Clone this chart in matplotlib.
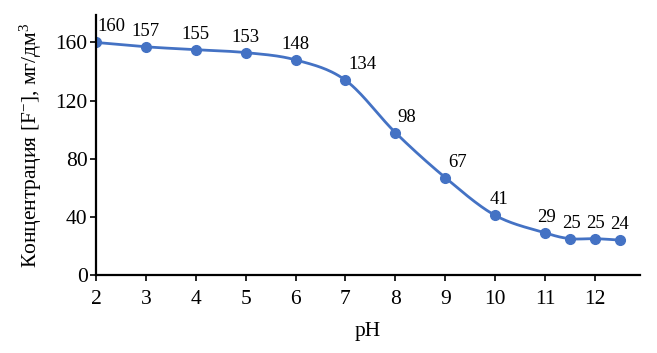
import numpy as np
import matplotlib
matplotlib.use("Agg")
import matplotlib.pyplot as plt

ph = [2, 3, 4, 5, 6, 7, 8, 9, 10, 11, 11.5, 12, 12.5]
conc = [160, 157, 155, 153, 148, 134, 98, 67, 41, 29, 25, 25, 24]
labels = [str(v) for v in conc]
xticks = [2, 3, 4, 5, 6, 7, 8, 9, 10, 11, 12]
yticks = [0, 40, 80, 120, 160]

# label offsets in points (style)
offs = [(11, 5), (0, 5), (0, 5), (0, 5), (0, 5), (12, 5), (8, 5), (9, 5), (3, 5), (1, 5), (1, 5), (0, 5), (0, 5)]

plt.rcParams['font.family'] = ['Liberation Serif', 'DejaVu Serif']
plt.rcParams['mathtext.fontset'] = 'custom'
plt.rcParams['mathtext.rm'] = 'Liberation Serif'
plt.rcParams['mathtext.it'] = 'Liberation Serif:italic'
plt.rcParams['mathtext.default'] = 'regular'

def excel_smooth(x, y, n=30):
    x = np.asarray(x, float); y = np.asarray(y, float)
    px, py = [], []
    for i in range(len(x) - 1):
        x0, y0 = (x[i-1], y[i-1]) if i > 0 else (x[i], y[i])
        x1, y1 = x[i], y[i]
        x2, y2 = x[i+1], y[i+1]
        x3, y3 = (x[i+2], y[i+2]) if i + 2 < len(x) else (x[i+1], y[i+1])
        t = 1/6
        c1x, c1y = x1 + (x2 - x0) * t, y1 + (y2 - y0) * t
        c2x, c2y = x2 - (x3 - x1) * t, y2 - (y3 - y1) * t
        s = np.linspace(0, 1, n)
        bx = (1-s)**3*x1 + 3*(1-s)**2*s*c1x + 3*(1-s)*s**2*c2x + s**3*x2
        by = (1-s)**3*y1 + 3*(1-s)**2*s*c1y + 3*(1-s)*s**2*c2y + s**3*y2
        px.extend(bx); py.extend(by)
    return np.array(px), np.array(py)

fig = plt.figure(figsize=(6.57, 3.53), dpi=100)
ax = fig.add_axes([0.146, 0.221, 0.828, 0.737])
color = '#4472C4'
sx, sy = excel_smooth(ph, conc)
ax.plot(sx, sy, color=color, lw=2, solid_capstyle='round')
ax.plot(ph, conc, 'o', color=color, ms=7)
for x, y, l, o in zip(ph, conc, labels, offs):
    ax.annotate(l, (x, y), xytext=o, textcoords='offset points', ha='center', va='bottom', fontsize=13.5)

ax.set_xlim(2, 12.9)
ax.set_ylim(0, 179)
ax.set_xticks(xticks)
ax.set_yticks(yticks)
ax.tick_params(labelsize=15.5, direction='out', length=4, width=1.2)
ax.tick_params(axis='x', pad=7)
ax.tick_params(axis='y', pad=2)
for s in ['top', 'right']:
    ax.spines[s].set_visible(False)
for s in ['left', 'bottom']:
    ax.spines[s].set_linewidth(1.6)
ax.set_xlabel('pH', fontsize=15.5, labelpad=9)
ax.set_ylabel('Концентрация [F$^{-}$], мг/дм$^{3}$', fontsize=15.5, labelpad=8)
fig.savefig('out.png', dpi=100)
